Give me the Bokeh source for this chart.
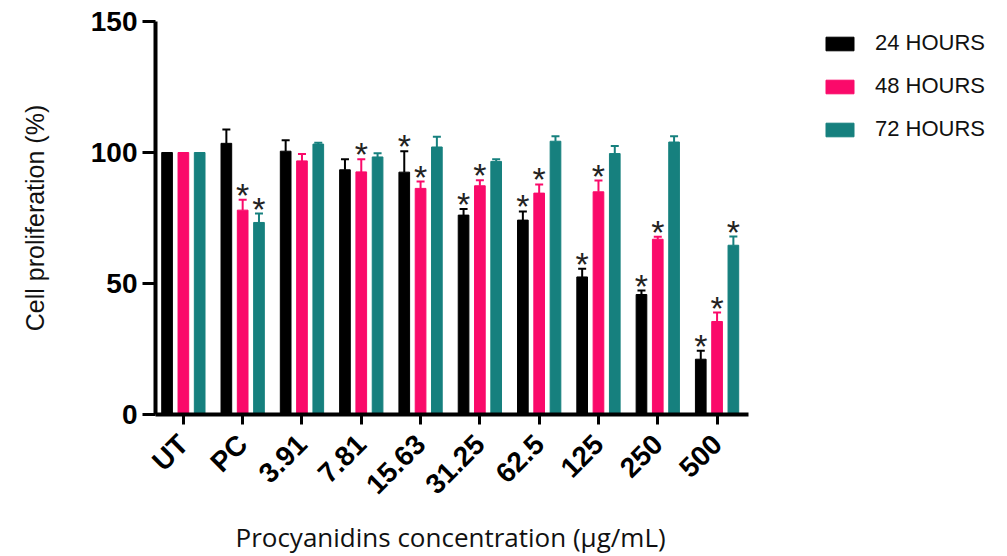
import math
from bokeh.plotting import figure
from bokeh.models import (ColumnDataSource, Range1d, Whisker, TeeHead, Title,
                          Legend, LegendItem, FixedTicker)
from bokeh.transform import dodge
from bokeh.core.properties import value
from bokeh.embed import file_html
from bokeh.resources import INLINE

# ---- data ----
categories = ["UT", "PC", "3.91", "7.81", "15.63", "31.25", "62.5", "125", "250", "500"]
series_names = ["24 HOURS", "48 HOURS", "72 HOURS"]
v24 = [100, 103.5, 100.5, 93.4, 92.5, 76.1, 74.2, 52.5, 45.8, 21.1]
v48 = [100, 78.0, 96.8, 92.6, 86.3, 87.3, 84.5, 85.0, 66.9, 35.5]
v72 = [100, 73.3, 103.2, 98.3, 102.1, 96.6, 104.3, 99.6, 104.0, 64.6]
e24 = [0, 5.3, 4.2, 4.0, 8.0, 2.3, 3.3, 3.1, 1.5, 3.2]
e48 = [0, 4.0, 2.6, 4.8, 2.6, 2.1, 3.3, 4.3, 0.9, 3.4]
e72 = [0, 3.4, 0.5, 1.4, 3.9, 0.8, 1.9, 2.9, 2.2, 3.3]
sig24 = [0, 0, 0, 0, 1, 1, 1, 1, 1, 1]
sig48 = [0, 1, 0, 1, 1, 1, 1, 1, 1, 1]
sig72 = [0, 1, 0, 0, 0, 0, 0, 0, 0, 1]
y_ticks = [0, 50, 100, 150]
x_title = "Procyanidins concentration (\u03bcg/mL)"
y_title = "Cell proliferation (%)"

colors = ["#000000", "#FA0A6A", "#16807E"]
offsets = [-0.275, 0.0, 0.275]

pos = list(range(len(categories)))
n = len(categories)
x_start = -0.47
x_axis_end = n - 1 + 0.53

p = figure(x_range=Range1d(x_start, x_start + 835 / 59.3), y_range=Range1d(0, 150),
           frame_width=835, frame_height=393,
           min_border_left=155, min_border_top=21, min_border_bottom=136, min_border_right=0,
           output_backend="svg", toolbar_location=None)
p.outline_line_color = None
p.grid.grid_line_color = None
p.background_fill_color = "white"

legend_items = []
for name, vals, errs, sig, col, off in zip(series_names, [v24, v48, v72], [e24, e48, e72],
                                           [sig24, sig48, sig72], colors, offsets):
    upper = [v + e for v, e in zip(vals, errs)]
    src = ColumnDataSource(dict(x=pos, top=vals, upper=upper))
    r = p.vbar(x=dodge("x", off), top="top", width=0.18, source=src,
               fill_color=col, line_color=col)
    legend_items.append(LegendItem(label=name, renderers=[r]))
    wsrc = ColumnDataSource(dict(x=[i for i, e in zip(pos, errs) if e > 0],
                                 top=[v for v, e in zip(vals, errs) if e > 0],
                                 upper=[u for u, e in zip(upper, errs) if e > 0]))
    w = Whisker(base=dodge("x", off), upper="upper", lower="top",
                dimension="height", source=wsrc, line_color=col, line_width=2,
                upper_head=TeeHead(size=8, line_color=col, line_width=2), lower_head=None)
    p.add_layout(w)
    ssrc = ColumnDataSource(dict(x=[i for i, s in zip(pos, sig) if s],
                                 y=[u for u, s in zip(upper, sig) if s],
                                 t=["*" for s in sig if s]))
    p.text(x=dodge("x", off), y="y", text="t", source=ssrc,
           text_font=value("Liberation Sans"), text_font_size="34px", text_color="#222222",
           text_align="center", text_baseline="alphabetic", y_offset=-5)

legend = Legend(items=legend_items, location=(667, 272), orientation="vertical",
                glyph_width=35, glyph_height=17, label_text_font="Liberation Sans",
                label_text_font_size="22px", label_text_color="#111111", spacing=17,
                label_standoff=18, padding=0, margin=0, border_line_color=None,
                background_fill_alpha=0)
p.add_layout(legend, "center")

# axes
for ax in (p.xaxis[0], p.yaxis[0]):
    ax.axis_line_width = 4
    ax.axis_line_color = "black"
    ax.major_tick_line_width = 3
    ax.major_tick_line_color = "black"
    ax.major_tick_in = 0
    ax.minor_tick_line_color = None
    ax.major_label_text_font = "Liberation Sans"
    ax.major_label_text_font_style = "bold"
    ax.major_label_text_font_size = "28px"
    ax.major_label_text_color = "black"

p.yaxis.ticker = FixedTicker(ticks=y_ticks)
p.yaxis.major_tick_out = 13
p.yaxis.major_label_standoff = 5
p.yaxis.axis_label = y_title
p.yaxis.axis_label_text_font = "Liberation Sans"
p.yaxis.axis_label_text_font_style = "normal"
p.yaxis.axis_label_text_font_size = "25px"
p.yaxis.axis_label_text_color = "#111111"
p.yaxis.axis_label_standoff = 39

p.xaxis.ticker = FixedTicker(ticks=pos, minor_ticks=[])
p.xaxis.major_label_overrides = {i: c for i, c in zip(pos, categories)}
p.xaxis.bounds = (x_start, x_axis_end)
p.xaxis.major_tick_out = 10
p.xaxis.major_label_orientation = math.pi / 4
p.xaxis.major_label_standoff = 15

xt = Title(text=x_title, align="left", offset=80, text_font="Open Sans",
           text_font_size="26px", text_font_style="normal", text_color="#111111",
           standoff=7)
p.add_layout(xt, "below")

open("out.html", "w").write(file_html(p, INLINE))
